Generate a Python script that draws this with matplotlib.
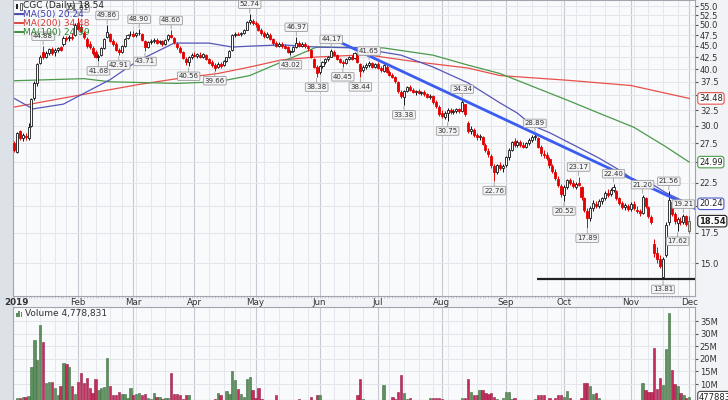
import numpy as np
import pandas as pd
import matplotlib.pyplot as plt
from matplotlib.patches import Rectangle
from matplotlib.lines import Line2D
from matplotlib.ticker import NullLocator, NullFormatter
from matplotlib.transforms import blended_transform_factory

plt.rcParams['font.family'] = ['DejaVu Sans']

# trading days Dec 31 2018 .. Dec 2 2019
holidays = ["2019-01-01", "2019-01-21", "2019-02-18", "2019-04-19", "2019-05-27",
            "2019-07-04", "2019-09-02", "2019-11-28"]
days = pd.bdate_range("2018-12-31", "2019-12-02")
days = days[~days.isin(pd.to_datetime(holidays))]

month_labels = ["2019", "Feb", "Mar", "Apr", "May", "Jun", "Jul", "Aug", "Sep",
                "Oct", "Nov", "Dec"]

first_prev_close = 28.0

opens = [
    # Jan
    27.5, 26.3, 29.2, 28.2, 28.5, 28.2, 30.0, 34.5, 37.2, 41.3, 43.5, 42.5, 43.4, 44.2, 43.5,
    44.0, 44.6, 45.5, 46.8, 46.8, 47.0, 47.5,
    # Feb
    50.5, 49.5, 48.0, 46.5, 45.5, 44.5, 43.5, 42.5, 43.0, 44.5, 47.0, 47.8, 46.0, 45.5, 44.0,
    43.5, 45.0, 46.8, 47.8,
    # Mar
    47.8, 47.5, 48.0, 47.8, 46.0, 44.8, 45.8, 46.2, 46.4, 45.8, 46.0, 45.4, 46.5, 47.5, 46.8,
    45.5, 44.5, 43.5, 42.0, 41.5, 42.5,
    # Apr
    43.0, 42.8, 43.0, 42.6, 43.0, 42.0, 41.5, 40.8, 40.5, 41.0, 40.8, 41.6, 42.5, 44.0, 47.4,
    47.8, 47.8, 48.0, 48.8, 50.8, 51.0,
    # May
    50.5, 50.0, 48.8, 48.0, 47.0, 47.6, 46.5, 45.6, 45.0, 45.5, 45.0, 44.6, 43.6, 43.9, 44.8,
    45.6, 45.0, 45.4, 44.8, 44.0, 42.0, 40.5,
    # Jun
    39.4, 40.6, 41.4, 42.0, 42.6, 43.6, 43.0, 42.0, 41.4, 41.3, 42.1, 42.5, 42.2, 43.0, 41.0,
    39.8, 40.5, 40.8, 41.2, 40.5,
    # Jul
    41.0, 40.2, 39.6, 40.5, 39.5, 38.8, 38.4, 37.4, 35.6, 34.8, 35.8, 36.5, 36.0, 35.6, 35.8,
    35.4, 35.6, 35.2, 34.8, 34.9, 33.8, 33.0,
    # Aug
    32.0, 31.4, 32.1, 32.5, 32.2, 32.4, 32.6, 32.3, 33.5, 30.5, 29.2, 29.4, 28.6, 28.3, 28.3,
    27.3, 26.4, 25.8, 24.5, 23.8, 24.6, 24.3,
    # Sep
    24.6, 25.6, 26.6, 27.8, 27.3, 27.7, 27.2, 27.0, 27.5, 28.0, 28.3, 28.2, 27.0, 26.0, 25.9,
    25.4, 24.5, 23.8, 23.0, 22.2,
    # Oct
    21.2, 22.0, 22.8, 22.5, 22.0, 22.5, 22.0, 20.8, 19.5, 18.8, 19.8, 20.2, 20.0, 20.5, 20.8,
    21.4, 21.3, 21.7, 21.6, 20.8, 20.3, 19.9, 20.0,
    # Nov, Dec
    19.7, 20.2, 19.6, 19.5, 19.3, 20.8, 19.9, 18.9, 16.5, 15.8, 15.3, 14.0, 15.6, 18.5, 20.4,
    19.2, 18.4, 18.6, 18.5, 19.0, 17.6,
]
highs = [
    27.8, 29.1, 29.4, 28.9, 29.0, 30.5, 34.6, 37.6, 41.3, 43.0, 44.88, 43.8, 44.5, 44.6, 44.4,
    44.8, 45.0, 47.2, 47.3, 47.5, 48.0, 50.5,
    51.81, 50.2, 48.5, 47.0, 46.0, 45.0, 44.0, 43.2, 44.8, 46.8, 49.86, 48.0, 46.5, 45.8, 44.5,
    45.2, 46.8, 47.8, 48.4,
    48.5, 48.3, 48.90, 48.0, 46.3, 46.2, 46.5, 46.8, 46.7, 46.4, 46.3, 46.6, 47.8, 48.60, 47.0,
    45.8, 44.9, 43.9, 42.4, 42.8, 43.3,
    43.6, 43.4, 43.5, 43.4, 43.2, 42.3, 41.9, 41.2, 41.4, 41.5, 41.8, 42.6, 44.0, 47.8, 48.3,
    48.2, 48.3, 49.0, 51.0, 52.74, 51.6,
    51.0, 50.4, 49.2, 48.5, 48.2, 47.9, 46.8, 46.0, 45.8, 45.9, 45.4, 44.9, 44.1, 45.0, 46.97,
    46.2, 45.8, 45.8, 45.2, 44.3, 42.3, 40.9,
    40.8, 41.6, 42.2, 42.8, 44.17, 44.0, 43.2, 42.3, 41.8, 42.3, 42.8, 42.9, 43.6, 43.3, 41.2,
    40.8, 41.2, 41.65, 41.5, 41.2,
    41.4, 40.6, 41.0, 40.8, 39.8, 39.2, 38.7, 37.6, 35.9, 36.0, 36.8, 36.9, 36.3, 36.0, 36.1,
    35.8, 35.9, 35.4, 35.2, 35.0, 34.2, 33.3,
    32.5, 32.3, 32.8, 32.8, 32.6, 32.9, 32.8, 34.34, 33.6, 30.8, 30.0, 29.7, 29.0, 28.8, 28.5,
    27.5, 26.8, 26.0, 24.8, 24.8, 25.0, 24.8,
    25.8, 26.8, 27.8, 28.2, 27.9, 28.0, 27.6, 27.7, 28.2, 28.6, 28.89, 28.3, 27.2, 26.5, 26.3,
    25.6, 24.8, 24.1, 23.3, 22.4,
    22.3, 23.0, 23.1, 22.8, 22.6, 23.17, 22.2, 21.0, 19.8, 20.0, 20.6, 20.5, 20.7, 21.0, 21.6,
    21.8, 21.9, 22.40, 21.7, 21.0, 20.5, 20.3, 20.2,
    20.4, 20.5, 20.0, 19.7, 21.20, 21.0, 20.0, 19.1, 16.9, 16.3, 15.6, 15.5, 18.5, 21.56, 20.6,
    19.4, 18.9, 18.9, 19.21, 19.1, 19.0,
]
lows = [
    26.3, 26.1, 27.9, 27.8, 28.0, 28.0, 29.8, 34.2, 36.8, 41.0, 42.0, 42.2, 43.0, 43.0, 42.8,
    43.5, 43.8, 45.0, 46.0, 46.2, 46.3, 47.2,
    48.8, 48.0, 46.5, 44.5, 44.2, 43.0, 42.3, 41.68, 42.8, 44.3, 46.8, 45.8, 45.0, 43.8, 42.91,
    43.3, 44.8, 46.5, 47.2,
    47.0, 47.0, 47.6, 46.0, 43.71, 44.5, 45.3, 45.6, 45.3, 45.3, 45.0, 45.2, 46.2, 46.8, 45.5,
    44.3, 43.3, 42.0, 40.8, 40.56, 42.1,
    42.4, 42.2, 42.2, 42.3, 41.8, 41.0, 40.5, 39.66, 40.2, 40.3, 40.6, 41.4, 42.3, 43.8, 47.0,
    47.4, 47.3, 47.8, 48.6, 50.3, 50.0,
    49.5, 48.5, 47.6, 46.8, 46.8, 46.3, 45.2, 44.6, 44.6, 44.5, 44.2, 43.4, 43.02, 43.6, 44.5,
    44.7, 44.6, 44.5, 43.8, 42.2, 40.2, 38.38,
    39.1, 40.3, 41.0, 41.6, 42.4, 42.8, 41.8, 41.2, 40.45, 41.0, 41.8, 41.8, 42.0, 41.2, 38.44,
    39.5, 40.0, 40.5, 40.2, 40.3,
    40.0, 39.5, 39.4, 39.3, 38.6, 38.2, 37.3, 35.5, 34.5, 33.38, 35.6, 35.8, 35.4, 35.1, 35.2,
    35.0, 34.9, 34.5, 34.3, 33.6, 32.8, 31.6,
    31.2, 31.0, 30.75, 31.9, 31.8, 32.0, 32.0, 32.2, 31.6, 28.9, 28.8, 28.4, 28.0, 27.9, 27.2,
    26.3, 25.6, 24.3, 22.76, 23.5, 24.0, 23.8,
    24.4, 25.3, 26.4, 27.0, 27.0, 27.0, 26.8, 26.8, 27.3, 27.7, 28.0, 26.8, 25.8, 25.5, 25.2,
    24.3, 23.6, 22.8, 22.0, 21.0,
    20.52, 21.8, 22.3, 21.9, 21.8, 22.1, 20.6, 19.4, 17.89, 18.6, 19.5, 19.8, 19.8, 20.2, 20.6,
    21.0, 21.1, 21.5, 20.6, 20.1, 19.7, 19.6, 19.5,
    19.5, 19.6, 19.3, 19.0, 19.2, 19.8, 18.8, 18.3, 15.5, 15.0, 14.6, 13.81, 15.5, 18.2, 19.0,
    18.3, 17.62, 18.2, 18.3, 18.1, 17.5,
]
closes = [
    26.6, 29.0, 28.2, 28.6, 28.4, 29.9, 34.3, 37.3, 41.0, 42.6, 42.4, 43.3, 44.2, 43.4, 44.0,
    44.5, 44.1, 46.8, 46.6, 47.0, 46.8, 50.0,
    49.0, 48.4, 47.0, 45.0, 44.6, 43.3, 42.6, 42.8, 44.5, 46.5, 48.3, 46.0, 45.4, 44.1, 43.6,
    45.0, 46.5, 47.4, 47.7,
    47.3, 47.9, 47.9, 46.3, 44.6, 45.8, 46.2, 46.4, 45.6, 46.0, 45.3, 46.4, 47.4, 47.0, 45.8,
    44.6, 43.6, 42.3, 41.4, 42.5, 42.9,
    42.8, 43.1, 42.5, 43.1, 42.0, 41.3, 40.8, 40.3, 41.1, 40.6, 41.6, 42.4, 43.8, 47.5, 47.7,
    47.6, 48.0, 48.7, 50.7, 51.2, 50.4,
    50.2, 48.8, 48.0, 47.2, 47.8, 46.6, 45.6, 45.0, 45.5, 44.9, 44.5, 43.7, 43.8, 44.8, 45.6,
    45.0, 45.5, 44.9, 44.5, 42.6, 40.5, 39.3,
    40.6, 41.4, 42.0, 42.5, 43.8, 43.0, 42.0, 41.5, 41.2, 42.1, 42.6, 42.1, 43.3, 41.5, 39.6,
    40.5, 40.8, 41.2, 40.5, 41.0,
    40.3, 39.8, 40.8, 39.5, 38.9, 38.5, 37.6, 35.8, 34.9, 35.8, 36.5, 36.0, 35.6, 35.8, 35.4,
    35.6, 35.2, 34.7, 34.9, 33.9, 33.1, 31.9,
    31.5, 32.1, 32.5, 32.2, 32.4, 32.6, 32.3, 33.9, 31.8, 29.2, 29.6, 28.6, 28.3, 28.5, 27.4,
    26.5, 26.0, 24.6, 23.8, 24.6, 24.3, 24.5,
    25.6, 26.6, 27.6, 27.3, 27.7, 27.2, 27.0, 27.5, 28.0, 28.3, 28.5, 27.0, 26.1, 25.9, 25.5,
    24.6, 23.9, 23.1, 22.3, 21.3,
    22.0, 22.8, 22.5, 22.1, 22.4, 22.3, 20.9, 19.6, 18.8, 19.8, 20.3, 20.0, 20.5, 20.8, 21.4,
    21.2, 21.7, 22.0, 20.8, 20.3, 19.9, 20.1, 19.7,
    20.2, 19.8, 19.5, 19.3, 20.9, 20.0, 19.0, 18.5, 15.8, 15.3, 14.8, 15.3, 18.2, 20.6, 19.2,
    18.6, 18.7, 18.5, 19.0, 18.3, 18.54,
]
volumes_m = [
    3.0, 4.4, 4.6, 4.8, 5.0, 5.2, 16.7, 27.5, 19.5, 33.4, 26.8, 10.4, 10.9, 10.9, 8.3,
    5.6, 9.2, 18.5, 18.1, 16.6, 9.2, 6.0,
    10.9, 14.2, 10.4, 12.2, 8.3, 6.5, 11.8, 7.6, 8.3, 8.7, 20.2, 9.2, 5.6, 5.6, 6.8,
    6.0, 6.0, 4.5, 8.6,
    5.5, 6.0, 6.3, 5.8, 6.2, 4.5, 4.0, 6.5, 5.0, 5.0, 4.0, 4.5, 4.5, 14.2, 6.0,
    6.2, 5.8, 4.0, 5.8, 5.8, 3.5,
    3.0, 3.2, 3.0, 3.4, 3.0, 3.3, 3.5, 4.0, 6.5, 5.6, 3.5, 7.3, 6.0, 15.2, 11.5,
    8.2, 6.0, 5.0, 11.8, 12.6, 7.6,
    4.5, 8.3, 4.0, 3.8, 3.5, 3.6, 3.8, 5.6, 3.4, 3.3, 3.2, 3.5, 3.4, 3.3, 3.6,
    4.2, 3.3, 3.2, 3.5, 5.0, 3.8, 5.6,
    5.6, 3.5, 3.3, 3.2, 3.6, 3.4, 3.3, 3.5, 3.6, 3.4, 3.2, 3.3, 3.6, 5.6, 11.8,
    4.0, 3.5, 3.4, 3.2, 3.3,
    3.5, 3.4, 9.6, 3.6, 3.8, 4.7, 4.0, 7.0, 13.6, 6.5, 4.0, 4.3, 3.5, 3.4, 3.3,
    3.5, 3.4, 3.6, 4.3, 4.3, 4.3, 4.3,
    4.0, 3.8, 3.6, 3.4, 3.5, 3.3, 3.6, 4.3, 4.3, 11.8, 7.0, 5.5, 5.5, 7.5, 7.5,
    6.5, 6.0, 6.3, 5.0, 4.2, 3.8, 4.5,
    6.8, 6.8, 4.0, 4.3, 3.6, 3.4, 3.3, 3.5, 3.4, 3.6, 4.0, 5.5, 5.5, 5.5, 3.8,
    4.3, 3.6, 4.6, 5.5, 5.8,
    5.0, 7.4, 4.6, 3.6, 3.8, 3.6, 4.5, 10.5, 10.4, 9.2, 6.0, 6.5, 4.6, 3.6, 3.4,
    3.3, 3.5, 3.6, 3.4, 3.3, 3.2, 3.4, 3.3,
    3.5, 3.4, 3.3, 3.2, 10.5, 7.8, 7.0, 7.0, 24.2, 8.2, 12.2, 9.6, 23.8, 38.3, 15.6,
    10.2, 9.4, 6.4, 5.5, 4.4, 4.78,
]

# moving averages (day index, value)
ma50_x = [0, 6.5, 17, 23, 33, 42, 55, 67, 75, 81, 92, 104, 118, 133, 144, 156, 167, 173, 178,
          184, 193.5, 201, 209, 213, 219, 224, 232]
ma50_y = [34.5, 32.7, 33.5, 35.1, 37.9, 41.5, 45.6, 45.6, 44.7, 44.9, 45.2, 44.7, 44.5, 42.9,
          40.4, 37.3, 33.7, 32.0, 30.1, 29.0, 27.0, 25.5, 23.8, 22.8, 22.4, 21.4, 20.24]
ma200_x = [0, 23, 43, 56, 70, 81, 92, 104, 121, 138, 156, 167, 190, 212, 232]
ma200_y = [33.0, 35.1, 37.0, 38.1, 39.1, 40.4, 41.9, 42.5, 43.0, 41.5, 40.2, 38.7, 37.8, 36.8,
           34.48]
ma100_x = [0, 24, 33, 56, 70, 81, 104, 127, 144, 156, 167, 190, 201, 213, 224, 232]
ma100_y = [37.7, 38.1, 37.5, 37.2, 37.5, 38.7, 44.7, 44.5, 42.9, 40.8, 39.1, 34.2, 32.0, 29.8,
           27.0, 24.99]

trend_x = [112, 234.5]
trend_y = [45.8, 19.7]
support_x = [179.7, 234.5]
support_y = [13.84, 13.84]

high_idx = [10, 22, 32, 43, 54, 81, 97, 109, 122, 154, 179, 194, 206, 216, 225, 230]
low_idx = [29, 36, 45, 60, 69, 95, 104, 113, 119, 134, 149, 165, 189, 197, 223, 228]

price_ticks = [15.0, 17.5, 20.0, 22.5, 25.0, 27.5, 30.0, 32.5, 35.0, 37.5, 40.0, 42.5, 45.0,
               47.5, 50.0, 52.5, 55.0]
hidden_ticks = [20.0, 25.0]          # covered by the value tags
vol_ticks = [10, 15, 20, 25, 30, 35]

# ---------------------------------------------------------------- figure
W, H = 728, 400
fig = plt.figure(figsize=(W / 100, H / 100), dpi=100, facecolor='#f2f3f6')
fig.patches.append(Rectangle((0, 0), 13 / W, 1, transform=fig.transFigure,
                             color='#dde2e9', zorder=-5))

ax = fig.add_axes([13 / W, 104 / H, 682 / W, 296 / H], facecolor='#f9fafc')
axv = fig.add_axes([13 / W, 0, 682 / W, 93 / H], facecolor='#f9fafc')

o = np.array(opens)
hi = np.array(highs)
lo = np.array(lows)
c = np.array(closes)
v = np.array(volumes_m) * 1e6
x = np.arange(len(c))
prev = np.r_[first_prev_close, c[:-1]]
up = c >= prev

# grid
month_idx = [i for i in range(1, len(days)) if days[i].month != days[i - 1].month]
week_idx = [i for i in range(1, len(days)) if days[i].weekday() < days[i - 1].weekday()]
for a in (ax, axv):
    for i in week_idx:
        a.axvline(i, color='#e6e7ec', lw=0.7, zorder=0)
    for i in month_idx[1:]:
        a.axvline(i, color='#c6c9d1', lw=0.8, zorder=0)
for t in price_ticks:
    ax.axhline(t, color='#e3e5ea', lw=0.7, zorder=0)
for t in vol_ticks:
    axv.axhline(t * 1e6, color='#e3e5ea', lw=0.7, zorder=0)

# moving averages
ax.plot(ma200_x, ma200_y, color='#e8504a', lw=0.9, zorder=2)
ax.plot(ma100_x, ma100_y, color='#4a9a4a', lw=0.9, zorder=2)
ax.plot(ma50_x, ma50_y, color='#5656b8', lw=0.9, zorder=2)

# candles
edge = np.where(up, '#141414', '#e40000')
face = np.where(c >= o, '#ffffff', edge)
face[-1] = '#f0d43a'
edge[-1] = '#555555'
ax.vlines(x, lo, hi, colors=edge, lw=0.7, zorder=3)
ax.bar(x, np.abs(c - o), bottom=np.minimum(o, c), width=0.7, color=face,
       edgecolor=edge, linewidth=0.6, zorder=4)

# trend and support lines
ax.plot(trend_x, trend_y, color='#3a5cf0', lw=2.0, solid_capstyle='butt', zorder=5)
ax.plot(support_x, support_y, color='#222222', lw=1.6, solid_capstyle='butt', zorder=5)

# high / low labels
box = dict(boxstyle='round,pad=0.18,rounding_size=0.15', fc='#f3f3f5', ec='#9c9c9c', lw=0.6)
for i in high_idx:
    ax.annotate(f"{hi[i]:.2f}", xy=(i, hi[i]), xytext=(0, 10), textcoords='offset pixels',
                ha='center', va='center', fontsize=5, color='#333', bbox=box, zorder=6,
                arrowprops=dict(arrowstyle='-', color='#9c9c9c', lw=0.6, shrinkA=0, shrinkB=1))
for i in low_idx:
    ax.annotate(f"{lo[i]:.2f}", xy=(i, lo[i]), xytext=(0, -10), textcoords='offset pixels',
                ha='center', va='center', fontsize=5, color='#333', bbox=box, zorder=6,
                arrowprops=dict(arrowstyle='-', color='#9c9c9c', lw=0.6, shrinkA=0, shrinkB=1))

ax.set_yscale('log')
ax.set_xlim(-0.35, 234.0)
ax.set_ylim(12.70, 56.7)
ax.yaxis.tick_right()
ax.yaxis.set_minor_locator(NullLocator())
ax.yaxis.set_minor_formatter(NullFormatter())
ax.set_yticks(price_ticks)
ax.set_yticklabels(["" if t in hidden_ticks else f"{t:.1f}" for t in price_ticks])
ax.tick_params(axis='y', length=2, pad=1.5, labelsize=6, colors='#555', labelcolor='#333')
ax.set_xticks([])
ax.set_xticks(x, minor=True)
ax.tick_params(axis='x', which='minor', length=1.5, color='#b0b3ba', width=0.5)

# date labels
tx = blended_transform_factory(ax.transData, ax.transAxes)
for k, (i, lab) in enumerate(zip(month_idx, month_labels)):
    ax.text(i, -0.021, lab, transform=tx, ha='center', va='center', fontsize=6.3,
            color='#333', fontweight='bold' if k == 0 else 'normal', clip_on=False)

# volume
vcol = np.where(up, '#5e8f5e', '#c42d5c')
vedge = np.where(up, '#3f6e3f', '#951e45')
axv.bar(x, v, width=0.8, color=vcol, edgecolor=vedge, linewidth=0.4, zorder=3)
axv.set_xlim(-0.35, 234.0)
axv.set_ylim(3.65e6, 40.6e6)
axv.yaxis.tick_right()
axv.set_yticks([t * 1e6 for t in vol_ticks])
axv.set_yticklabels([f"{t}M" for t in vol_ticks])
axv.tick_params(axis='y', length=2, pad=1.5, labelsize=6, colors='#555', labelcolor='#333')
axv.set_xticks([])

for a in (ax, axv):
    for s in a.spines.values():
        s.set_color('#a2a5ad')
        s.set_linewidth(0.8)


# value tags on the right
def tag(a, val, text, ec, bold=False):
    a.annotate(text, xy=(1.0, val), xycoords=('axes fraction', 'data'), xytext=(4, 0),
               textcoords='offset pixels', ha='left', va='center', fontsize=6, color='#222',
               fontweight='bold' if bold else 'normal', annotation_clip=False, zorder=10,
               bbox=dict(boxstyle='round,pad=0.15,rounding_size=0.3', fc='white', ec=ec,
                         lw=0.8))


tag(ax, 34.48, "34.48", '#e8504a')
tag(ax, 24.99, "24.99", '#4a9a4a')
tag(ax, 20.24, "20.24", '#4b55d0')
tag(ax, 18.54, "18.54", '#222222', bold=True)
tag(axv, 4.78e6, "4778831", '#444444')


# legend, top left
def ftext(px, py, s, **kw):
    fig.text(px / W, 1 - py / H, s, va='center', ha='left', fontsize=6.5, zorder=20, **kw)


fig.add_artist(Rectangle((16 / W, 1 - 8.5 / H), 2 / W, 5 / H, transform=fig.transFigure,
                         fc='#222', ec='none', zorder=20))
fig.add_artist(Rectangle((19.5 / W, 1 - 9.5 / H), 2 / W, 6 / H, transform=fig.transFigure,
                         fc='white', ec='#222', lw=0.5, zorder=20))
ftext(23, 5.5, "CGC (Daily) 18.54", color='#222')
legend_rows = [("MA(50) 20.24", '#3c3caa'), ("MA(200) 34.48", '#d83a34'),
               ("MA(100) 24.99", '#2f852f')]
for r, (s, col) in enumerate(legend_rows):
    yy = 14.3 + r * 9
    fig.add_artist(Line2D([15 / W, 22.5 / W], [1 - yy / H, 1 - yy / H],
                          transform=fig.transFigure, color=col, lw=1.3, zorder=20))
    ftext(23, yy, s, color=col)

for k, hh in enumerate([4, 6, 5]):
    fig.add_artist(Rectangle(((16 + 2.3 * k) / W, 1 - 317 / H), 1.8 / W, hh / H,
                             transform=fig.transFigure, fc='#5e8f5e', ec='none', zorder=20))
ftext(25, 313.5, "Volume 4,778,831", color='#333')

fig.savefig("out.png", dpi=100, facecolor=fig.get_facecolor())
